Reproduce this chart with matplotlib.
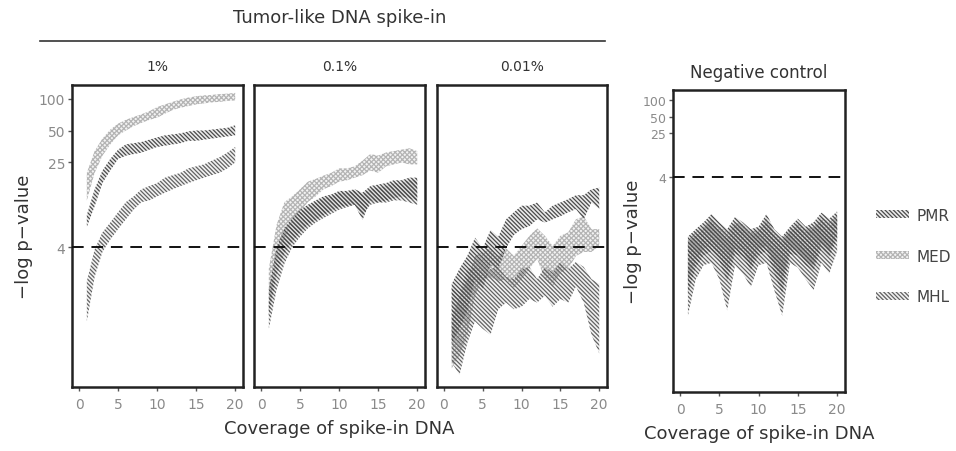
import numpy as np
import matplotlib
matplotlib.use('Agg')
import matplotlib.pyplot as plt
from matplotlib.patches import Patch
from matplotlib.lines import Line2D

plt.rcParams['font.family'] = ['DejaVu Sans']
plt.rcParams['hatch.linewidth'] = 0.9

# coverage of spike-in DNA
cov = np.arange(1, 21)

# 1% spike-in: lower / upper band of -log p-value
med_1_lo = [11, 20, 29, 37, 45, 50, 55, 59, 63, 66, 72, 78, 82, 85, 88, 90, 92, 93, 95, 96]
med_1_hi = [20, 32, 42, 51, 58, 63, 67, 71, 76, 83, 88, 93, 98, 102, 105, 107, 108, 110, 111, 113]
pmr_1_lo = [6.2, 9.7, 16, 21, 27, 29, 30, 31, 33, 35, 36, 37, 38, 40, 40, 41, 42, 43, 44, 45]
pmr_1_hi = [8, 14, 21, 27, 33, 37, 38, 39, 41, 43, 45, 46, 47, 49, 50, 50, 51, 52, 53, 56]
mhl_1_lo = [0.8, 2.1, 3.6, 4.7, 5.9, 7.3, 9, 10.6, 11, 12, 13, 14, 15, 16, 17, 18, 19, 20, 22, 25]
mhl_1_hi = [1.9, 3.8, 5.5, 6.8, 8.5, 10.6, 12, 14, 15, 16, 18, 19, 20, 22, 23, 24, 26, 28, 31, 35]

# 0.1% spike-in
med_01_lo = [1.0, 3.0, 4.8, 7.0, 8.7, 10.6, 12, 14, 15, 16.5, 17, 18, 19, 21, 20, 23, 24, 25, 24, 24]
med_01_hi = [2.5, 6.5, 10.6, 12, 14, 16.5, 17.5, 18.8, 20, 22, 22, 23, 26, 30, 29, 31, 32, 33, 34, 32]
pmr_01_lo = [0.9, 2.2, 3.5, 4.5, 5.5, 6.5, 7.2, 8, 8.8, 9.5, 9.8, 10, 7.2, 11, 10.5, 11, 11.5, 12, 11.5, 11]
pmr_01_hi = [1.6, 4.0, 6.0, 7.5, 9.0, 10, 11, 12, 12.5, 13.5, 13.5, 14, 13, 15, 15.5, 16, 17, 17, 18, 18]
mhl_01_lo = [0.68, 1.6, 2.8, 4.0, 5.0, 6.0, 6.8, 7.5, 8.2, 9.0, 9.5, 10, 8, 10, 10.5, 10.5, 11, 11, 10.5, 10]
mhl_01_hi = [1.2, 3.0, 5.0, 7.0, 8.5, 9.5, 10.5, 11.5, 12, 13, 13, 13.5, 12.5, 14, 14.5, 15, 16, 16, 17, 17]

# 0.01% spike-in
pmr_001_lo = [0.5, 0.68, 1.0, 2.0, 1.6, 2.7, 2.5, 3.9, 5.2, 5.9, 6.3, 7.3, 6.8, 7.3, 7.8, 8.5, 9.1, 7.3, 10.5, 9.1]
pmr_001_hi = [1.8, 2.5, 3.3, 4.9, 3.9, 5.8, 5.0, 7.3, 8.5, 9.8, 9.8, 10.5, 8.5, 9.8, 10.5, 11.3, 12.3, 12.3, 14, 14.5]
med_001_lo = [0.29, 0.38, 0.6, 1.4, 2.0, 2.1, 1.9, 2.0, 1.6, 2.0, 2.5, 3.1, 2.0, 1.7, 2.3, 2.5, 3.3, 3.6, 3.6, 4.1]
med_001_hi = [0.84, 1.4, 2.0, 3.3, 3.6, 3.9, 3.3, 3.9, 3.3, 4.1, 5.1, 6.0, 5.1, 4.1, 5.1, 5.5, 7.3, 7.8, 5.9, 5.9]
mhl_001_lo = [0.33, 0.25, 0.5, 0.8, 0.68, 0.6, 1.04, 1.2, 1.04, 1.1, 1.3, 1.2, 1.4, 1.1, 1.3, 1.2, 1.7, 1.2, 0.6, 0.4]
mhl_001_hi = [1.7, 1.5, 2.5, 2.6, 2.0, 2.5, 2.6, 2.1, 2.0, 2.5, 2.6, 2.0, 2.6, 2.3, 2.9, 2.5, 2.9, 2.6, 2.0, 1.8]

# negative control
pmr_neg_lo = [0.03, 0.09, 0.15, 0.18, 0.12, 0.05, 0.16, 0.14, 0.08, 0.15, 0.18, 0.07, 0.03, 0.16, 0.15, 0.10, 0.08, 0.2, 0.14, 0.3]
pmr_neg_hi = [0.33, 0.45, 0.6, 0.85, 0.6, 0.45, 0.75, 0.6, 0.45, 0.5, 0.85, 0.45, 0.33, 0.5, 0.7, 0.5, 0.6, 0.9, 0.7, 0.95]
med_neg_lo = [0.05, 0.12, 0.2, 0.22, 0.15, 0.08, 0.2, 0.18, 0.1, 0.2, 0.22, 0.1, 0.05, 0.2, 0.18, 0.12, 0.1, 0.25, 0.18, 0.35]
med_neg_hi = [0.28, 0.4, 0.5, 0.7, 0.5, 0.4, 0.6, 0.55, 0.4, 0.45, 0.7, 0.4, 0.3, 0.45, 0.6, 0.45, 0.5, 0.75, 0.6, 0.8]
mhl_neg_lo = [0.012, 0.055, 0.1, 0.11, 0.055, 0.015, 0.1, 0.07, 0.04, 0.1, 0.11, 0.035, 0.012, 0.11, 0.09, 0.055, 0.035, 0.11, 0.07, 0.18]
mhl_neg_hi = [0.25, 0.35, 0.45, 0.6, 0.4, 0.3, 0.55, 0.45, 0.35, 0.4, 0.6, 0.35, 0.25, 0.4, 0.5, 0.4, 0.45, 0.65, 0.5, 0.7]

methods = ['PMR', 'MED', 'MHL']
ytick_vals = [4, 25, 50, 100]
xtick_vals = [0, 5, 10, 15, 20]
threshold = 4

# look of each method band: fine hatching for PMR/MHL, stipple for MED
styles = {
    'PMR': dict(facecolor=(0.6, 0.6, 0.6, 0.2), edgecolor='#4a4a4a', hatch='\\' * 8),
    'MED': dict(facecolor=(0.85, 0.85, 0.85, 0.3), edgecolor='#b4b4b4', hatch='x' * 7),
    'MHL': dict(facecolor=(0.65, 0.65, 0.65, 0.15), edgecolor='#626262', hatch='\\' * 8),
}

panels = [
    ('1%', {'MED': (med_1_lo, med_1_hi), 'PMR': (pmr_1_lo, pmr_1_hi), 'MHL': (mhl_1_lo, mhl_1_hi)}),
    ('0.1%', {'MED': (med_01_lo, med_01_hi), 'PMR': (pmr_01_lo, pmr_01_hi), 'MHL': (mhl_01_lo, mhl_01_hi)}),
    ('0.01%', {'MED': (med_001_lo, med_001_hi), 'PMR': (pmr_001_lo, pmr_001_hi), 'MHL': (mhl_001_lo, mhl_001_hi)}),
    ('Negative control', {'MED': (med_neg_lo, med_neg_hi), 'PMR': (pmr_neg_lo, pmr_neg_hi), 'MHL': (mhl_neg_lo, mhl_neg_hi)}),
]

W, H = 956, 452
fig = plt.figure(figsize=(W / 100, H / 100), dpi=100)

# axes boxes in pixels: left, top, right, bottom
boxes = [(72, 86, 243, 388), (254, 86, 425, 388), (437, 86, 607, 388), (673, 91, 845, 393)]
ylims = [(0.193, 134), (0.193, 134), (0.193, 134), (4.9e-4, 154)]

tick_grey = '#8a8a8a'
text_grey = '#333333'
axes = []
for i, ((title, bands), box, yl) in enumerate(zip(panels, boxes, ylims)):
    l, t, r, b = box
    ax = fig.add_axes([l / W, 1 - b / H, (r - l) / W, (b - t) / H])
    axes.append(ax)
    for m in ['MED', 'MHL', 'PMR']:
        lo, hi = bands[m]
        ax.fill_between(cov, lo, hi, linewidth=0, **styles[m])
    ax.axhline(threshold, color='#111111', lw=1.4, ls=(0, (6, 4)), zorder=5)
    ax.set_yscale('log')
    ax.set_ylim(*yl)
    ax.set_xlim(-0.9, 21)
    ax.set_xticks(xtick_vals)
    ax.set_xticklabels([str(v) for v in xtick_vals], color=tick_grey, fontsize=10)
    ax.minorticks_off()
    if i == 0:
        ax.set_yticks(ytick_vals)
        ax.set_yticklabels([str(v) for v in ytick_vals], color=tick_grey, fontsize=10)
    elif i == 3:
        ax.set_yticks(ytick_vals)
        ax.set_yticklabels([str(v) for v in ytick_vals], color=tick_grey, fontsize=9)
    else:
        ax.set_yticks([])
    ax.tick_params(axis='both', direction='out', length=3, width=1, color='#555555', pad=4)
    ax.tick_params(axis='y', pad=2)
    for s in ax.spines.values():
        s.set_linewidth(1.8)
        s.set_color('#222222')
    if i < 3:
        ax.text(0.5, 1.04, title, transform=ax.transAxes, ha='center', va='bottom', fontsize=10, color=text_grey)
    else:
        ax.set_title(title, fontsize=12, color=text_grey, pad=9)
        ax.set_ylabel('\u2212log p\u2212value', fontsize=13, color=text_grey, labelpad=0)
        ax.set_xlabel('Coverage of spike-in DNA', fontsize=13, color=text_grey, labelpad=6)

axes[0].set_ylabel('\u2212log p\u2212value', fontsize=13, color=text_grey, labelpad=4)
axes[1].set_xlabel('Coverage of spike-in DNA', fontsize=13, color=text_grey, labelpad=6)

# header spanning the three spike-in panels
fig.text(340 / W, 1 - 18 / H, 'Tumor-like DNA spike-in', ha='center', va='center', fontsize=13, color=text_grey)
fig.add_artist(Line2D([40 / W, 605 / W], [1 - 42 / H, 1 - 42 / H], color=text_grey, lw=1.2))

handles = [Patch(linewidth=0, label=m, **styles[m]) for m in methods]
fig.legend(handles=handles, loc='center left', bbox_to_anchor=(862 / W, 1 - 257 / H),
           frameon=False, fontsize=11, handlelength=2.2, handleheight=0.5,
           labelspacing=1.7, handletextpad=0.5, labelcolor='#444444')

fig.savefig('out.png', dpi=100)
